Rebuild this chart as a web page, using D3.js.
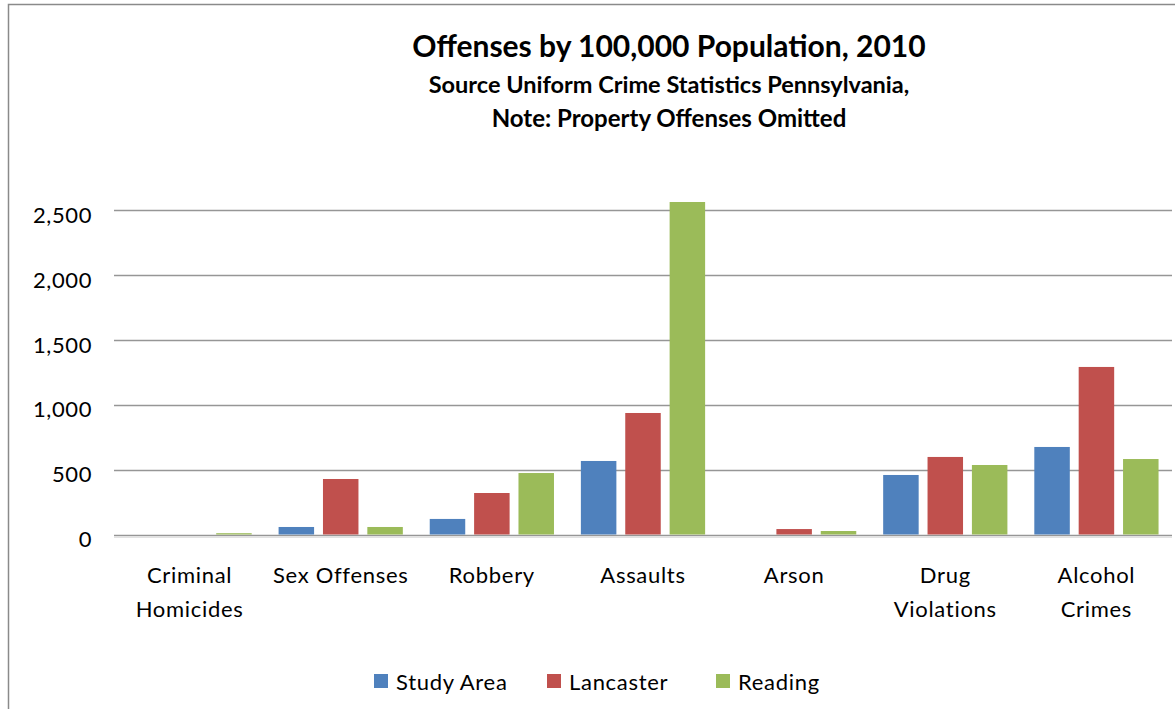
<!DOCTYPE html>
<html>
<head>
<meta charset="utf-8">
<script src="https://cdn.jsdelivr.net/npm/d3@7"></script>
<style>
  html, body { margin: 0; padding: 0; background: #fff; }
  svg { display: block; }
  text { font-family: Lato, "Open Sans", sans-serif; fill: #000; }
</style>
</head>
<body>
<svg id="chart" width="1175" height="709"></svg>
<script>
// Offense categories (x axis)
const categories = [
  ["Criminal", "Homicides"],
  ["Sex Offenses"],
  ["Robbery"],
  ["Assaults"],
  ["Arson"],
  ["Drug", "Violations"],
  ["Alcohol", "Crimes"]
];
const categoryKeys = categories.map(c => c.join(" "));

// Offenses per 100,000 population, 2010
const seriesNames = ["Study Area", "Lancaster", "Reading"];
const studyArea = [0, 58, 120, 567, 0, 459, 675];
const lancaster = [0, 428, 320, 937, 42, 598, 1292];
const reading   = [10, 58, 474, 2564, 27, 536, 582];
const seriesValues = [studyArea, lancaster, reading];
const seriesColors = ["#4F81BD", "#C0504D", "#9BBB59"];

const yTicks = [0, 500, 1000, 1500, 2000, 2500];

const titleLines = [
  "Offenses by 100,000 Population, 2010",
  "Source Uniform Crime Statistics Pennsylvania,",
  "Note: Property Offenses Omitted"
];

const svg = d3.select("#chart");
const plot = { left: 114, right: 1172, top: 210.3, bottom: 534.5 };

// outer frame of the chart area (left and top edges visible)
svg.append("path")
  .attr("d", "M8.5,709 V4.5 H1175")
  .attr("fill", "none")
  .attr("stroke", "#8a8a8a")
  .attr("stroke-width", 1.5);

const x = d3.scaleBand()
  .domain(categoryKeys)
  .range([plot.left, plot.right])
  .paddingInner(0.178)
  .paddingOuter(0.089);

const xInner = d3.scaleBand()
  .domain(seriesNames)
  .range([0, x.bandwidth()])
  .paddingInner(0.2);

const y = d3.scaleLinear()
  .domain([0, 2500])
  .range([plot.bottom, plot.top]);

// horizontal gridlines
svg.append("g")
  .selectAll("line")
  .data(yTicks)
  .join("line")
  .attr("x1", plot.left)
  .attr("x2", plot.right)
  .attr("y1", d => Math.round(y(d)) + 0.5)
  .attr("y2", d => Math.round(y(d)) + 0.5)
  .attr("stroke", "#969696")
  .attr("stroke-width", 1.3);

// faint shadow beneath the baseline
svg.append("line")
  .attr("x1", plot.left).attr("x2", plot.right)
  .attr("y1", Math.round(y(0)) + 2).attr("y2", Math.round(y(0)) + 2)
  .attr("stroke", "#e2e2e2").attr("stroke-width", 2);

// y axis labels
const yAxis = d3.axisLeft(y)
  .tickValues(yTicks)
  .tickFormat(d3.format(","))
  .tickSize(0)
  .tickPadding(22);

const yg = svg.append("g")
  .attr("transform", `translate(${plot.left},0)`)
  .call(yAxis);
yg.select(".domain").remove();
yg.selectAll("text")
  .attr("font-family", "Lato, sans-serif")
  .attr("font-size", 22)
  .attr("letter-spacing", 0.6)
  .attr("dy", "0.55em")
  .attr("fill", "#000");

// bars
const groups = svg.append("g")
  .selectAll("g")
  .data(seriesNames)
  .join("g")
  .attr("fill", (d, i) => seriesColors[i]);

groups.selectAll("rect")
  .data((name, si) => categoryKeys.map((k, ci) => ({ key: k, name, value: seriesValues[si][ci] })))
  .join("rect")
  .attr("x", d => x(d.key) + xInner(d.name))
  .attr("width", xInner.bandwidth())
  .attr("y", d => y(d.value))
  .attr("height", d => y(0) - y(d.value));

// category labels (possibly two lines)
const xl = svg.append("g")
  .selectAll("text")
  .data(categories)
  .join("text")
  .attr("x", (d, i) => x(categoryKeys[i]) + x.bandwidth() / 2)
  .attr("y", 583)
  .attr("text-anchor", "middle")
  .attr("font-size", 22)
  .attr("letter-spacing", 0.7);
xl.selectAll("tspan")
  .data(d => d)
  .join("tspan")
  .attr("x", function () { return this.parentNode.getAttribute("x"); })
  .attr("dy", (d, i) => i === 0 ? 0 : 34)
  .text(d => d);

// title block
const titleSizes = [30, 23.5, 24];
const titleBaselines = [57, 93, 127];
svg.append("g")
  .selectAll("text")
  .data(titleLines)
  .join("text")
  .attr("x", 669)
  .attr("y", (d, i) => titleBaselines[i])
  .attr("text-anchor", "middle")
  .attr("font-weight", "bold")
  .attr("font-size", (d, i) => titleSizes[i])
  .text(d => d);

// legend
const legendX = [374, 547, 716];
const legend = svg.append("g")
  .selectAll("g")
  .data(seriesNames)
  .join("g")
  .attr("transform", (d, i) => `translate(${legendX[i]},674)`);
legend.append("rect")
  .attr("width", 14).attr("height", 14)
  .attr("fill", (d, i) => seriesColors[i]);
legend.append("text")
  .attr("x", 22).attr("y", 16)
  .attr("font-size", 22)
  .attr("letter-spacing", 0.7)
  .text(d => d);
</script>
</body>
</html>
